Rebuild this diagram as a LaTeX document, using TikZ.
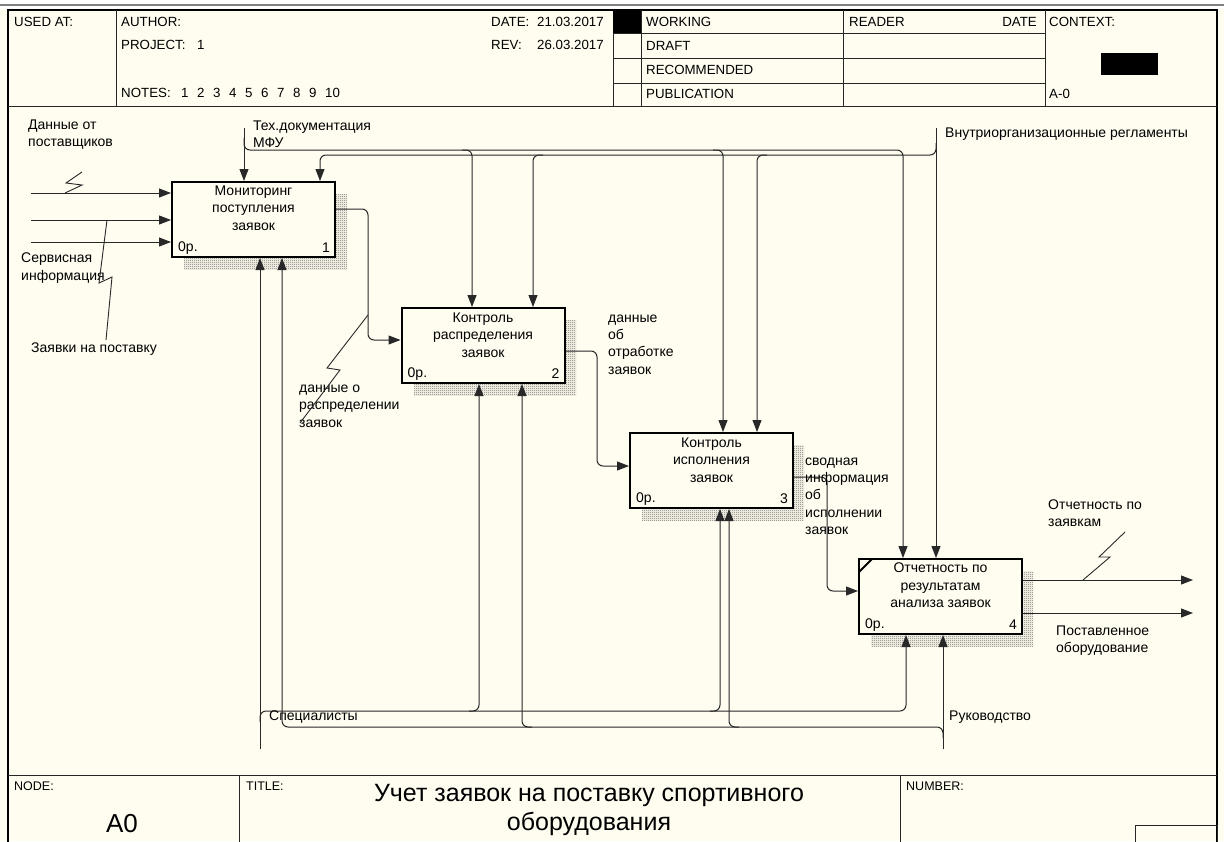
\documentclass[tikz,border=0pt]{standalone}
\usepackage{fontspec}
\setmainfont{Liberation Sans}
\usetikzlibrary{arrows.meta,patterns}
\definecolor{bg}{RGB}{255,252,240}
\definecolor{ln}{RGB}{40,40,40}
\definecolor{shd}{RGB}{110,108,104}
\pgfdeclarepatternformonly{finechecker}{\pgfpointorigin}{\pgfpoint{2pt}{2pt}}{\pgfpoint{2pt}{2pt}}{%
  \pgfpathrectangle{\pgfpointorigin}{\pgfpoint{1pt}{1pt}}%
  \pgfpathrectangle{\pgfpoint{1pt}{1pt}}{\pgfpoint{1pt}{1pt}}%
  \pgfusepath{fill}}
\begin{document}
\begin{tikzpicture}[x=1pt,y=-1pt,
  conn/.style={draw=ln,line width=1pt,rounded corners=6pt},
  arr/.style={conn,-{Triangle[length=12pt,width=9pt]}},
  bolt/.style={draw=ln,line width=0.9pt},
  lbl/.style={font=\fontsize{14}{17.3}\selectfont,inner sep=0pt,align=left,anchor=west},
  hdr/.style={font=\fontsize{13.3}{15}\selectfont,inner sep=0pt,anchor=west},
  small/.style={font=\fontsize{12.5}{14}\selectfont,inner sep=0pt,anchor=west},
  act/.style={draw=black,line width=2pt,fill=bg,minimum width=163pt,minimum height=75pt,inner sep=0pt},
  acttxt/.style={font=\fontsize{14}{17.5}\selectfont,inner sep=0pt,align=center},
  corner/.style={font=\fontsize{14}{15}\selectfont,inner sep=0pt},
  shadow/.style={pattern=finechecker,pattern color=shd},
  frame/.style={draw=black,line width=1.3pt},
  grid/.style={draw=black!85,line width=1pt}]
\useasboundingbox (0,0) rectangle (1224,841);
% background
\fill[bg] (0,0) rectangle (1224,841);
\fill[white] (0,0) rectangle (1224,9);
\draw[gray,line width=2pt] (0,5) -- (1224,5);
% frame
\draw[frame] (8,10) rectangle (1217,850);
\draw[grid] (8,106) -- (1217,106);
\foreach \xx in {116,613,641,843,1045} \draw[grid] (\xx,10) -- (\xx,106);
\foreach \yy in {33,58,83} \draw[grid] (613,\yy) -- (1045,\yy);
\fill[black] (613,10) rectangle (641,33);
\fill[black] (1101,53) rectangle (1158,75);
\draw[grid] (8,775) -- (1217,775);
\draw[grid] (239,775) -- (239,850);
\draw[grid] (900,775) -- (900,850);
\draw[grid] (1135,825) rectangle (1217,850);
% header texts
\node[hdr] (usedat) at (14,22) {USED AT:};
\node[hdr] (author) at (121,22) {AUTHOR:};
\node[hdr] (project) at (121,45) {PROJECT:};
\node[hdr] (projn) at (197,45) {1};
\node[hdr] (notes) at (121,93) {NOTES:};
\foreach \i in {1,...,10} {\pgfmathsetmacro{\nx}{181+16*(\i-1)}\node[hdr] (note\i) at (\nx,93) {\i};}
\node[hdr] (datel) at (491,22) {DATE:};
\node[hdr] (datev) at (537,22) {21.03.2017};
\node[hdr] (revl) at (491,45) {REV:};
\node[hdr] (revv) at (537,45) {26.03.2017};
\node[hdr] (working) at (646,22) {WORKING};
\node[hdr] (draft) at (646,46) {DRAFT};
\node[hdr] (recomm) at (646,70) {RECOMMENDED};
\node[hdr] (publ) at (646,94) {PUBLICATION};
\node[hdr] (reader) at (849,22) {READER};
\node[hdr,anchor=east] (rdate) at (1037,22) {DATE};
\node[hdr] (context) at (1049,22) {CONTEXT:};
\node[hdr] (azero) at (1049,94) {A-0};
% footer texts
\node[small] (nodel) at (14,786) {NODE:};
\node[small] (titlel) at (246,786) {TITLE:};
\node[small] (numl) at (906,786) {NUMBER:};
\node[font=\fontsize{26}{28}\selectfont,inner sep=0pt] (a0) at (122,824) {A0};
\node[font=\fontsize{25}{28.5}\selectfont,inner sep=0pt,align=center] (title) at (589,810) {Учет заявок на поставку спортивного\\оборудования};
% shadows
\path[shadow] (184,194) rectangle (347,269);
\path[shadow] (414,320) rectangle (576,395);
\path[shadow] (642,445) rectangle (804,520);
\path[shadow] (871,571) rectangle (1033,646);
% activity boxes
\node[act] (b1) at (253.5,219.5) {};
\node[act] (b2) at (483,345.5) {};
\node[act] (b3) at (711.5,470.5) {};
\node[act] (b4) at (940.5,596.5) {};
\draw[black,line width=2pt] (859,572) -- (872,559);
\node[acttxt] (t1) at (253.5,208) {Мониторинг\\поступления\\заявок};
\node[acttxt] (t2) at (483,335) {Контроль\\распределения\\заявок};
\node[acttxt] (t3) at (711.5,460) {Контроль\\исполнения\\заявок};
\node[acttxt] (t4) at (940.5,585.5) {Отчетность по\\результатам\\анализа заявок};
\foreach \b/\n in {b1/1,b2/2,b3/3,b4/4} {
  \node[corner,anchor=west] (\b op) at ([xshift=7pt,yshift=10pt]\b.south west) {0р.};
  \node[corner,anchor=east] (\b num) at ([xshift=-6pt,yshift=10pt]\b.south east) {\n};
}
% inputs of box 1
\coordinate (in1) at (31,193);
\coordinate (in2) at (31,220);
\coordinate (in3) at (31,242);
\draw[arr] (in1) -- (in1 -| b1.west);
\draw[arr] (in2) -- (in2 -| b1.west);
\draw[arr] (in3) -- (in3 -| b1.west);
% controls
\coordinate (mfu) at (244,128);
\coordinate (vn) at (936,128);
\coordinate (u1) at (244,150);
\coordinate (u2) at (472,150);
\coordinate (u3) at (723,150);
\coordinate (u4) at (903,150);
\coordinate (l1) at (320,155);
\coordinate (l2) at (533,155);
\coordinate (l3) at (757,155);
\coordinate (l4) at (936,155);
\draw[arr] (mfu) -- (mfu |- b1.north);
\draw[arr] (244,138) -- (u1) -- (u4) -- (u4 |- b4.north);
\draw[arr] ([xshift=-10pt]u2) -- (u2) -- (u2 |- b2.north);
\draw[arr] ([xshift=-10pt]u3) -- (u3) -- (u3 |- b3.north);
\draw[arr] (vn) -- (vn |- b4.north);
\draw[arr] (936,143) -- (l4) -- (l1) -- (l1 |- b1.north);
\draw[arr] ([xshift=10pt]l2) -- (l2) -- (l2 |- b2.north);
\draw[arr] ([xshift=10pt]l3) -- (l3) -- (l3 |- b3.north);
% mechanisms
\coordinate (sp) at (260,749);
\coordinate (rk) at (943,749);
\coordinate (s1) at (260,711);
\coordinate (s2) at (479,711);
\coordinate (s3) at (720,711);
\coordinate (s4) at (906,711);
\coordinate (r1) at (282,727);
\coordinate (r2) at (522,727);
\coordinate (r3) at (729,727);
\coordinate (r4) at (943,727);
\draw[arr] (sp) -- (sp |- b1.south);
\draw[arr] (260,722) -- (s1) -- (s4) -- (s4 |- b4.south);
\draw[arr] ([xshift=-10pt]s2) -- (s2) -- (s2 |- b2.south);
\draw[arr] ([xshift=-10pt]s3) -- (s3) -- (s3 |- b3.south);
\draw[arr] (rk) -- (rk |- b4.south);
\draw[arr] (943,738) -- (r4) -- (r1) -- (r1 |- b1.south);
\draw[arr] ([xshift=10pt]r2) -- (r2) -- (r2 |- b2.south);
\draw[arr] ([xshift=10pt]r3) -- (r3) -- (r3 |- b3.south);
% outputs
\coordinate (o1) at (368,209);
\coordinate (i2) at (368,340);
\coordinate (o2) at (597,351);
\coordinate (i3) at (597,466);
\coordinate (o3) at (827,477);
\coordinate (i4) at (827,591);
\coordinate (out1) at (1193,580);
\coordinate (out2) at (1193,613);
\draw[arr] (b1.east |- o1) -- (o1) -- (i2) -- (i2 -| b2.west);
\draw[arr] (b2.east |- o2) -- (o2) -- (i3) -- (i3 -| b3.west);
\draw[arr] (b3.east |- o3) -- (o3) -- (i4) -- (i4 -| b4.west);
\draw[arr] (b4.east |- out1) -- (out1);
\draw[arr] (b4.east |- out2) -- (out2);
% labels
\node[lbl] (ldp) at (28,134.5) {Данные от\\поставщиков};
\node[lbl] (lsi) at (21,268) {Сервисная\\информация};
\node[lbl] (lzp) at (31,349) {Заявки на поставку};
\node[lbl] (lmfu) at (253,134.5) {Тех.документация\\МФУ};
\node[lbl] (lvn) at (945,134) {Внутриорганизационные регламенты};
\node[lbl] (lrasp) at (299,406) {данные о\\распределении\\заявок};
\node[lbl] (lotr) at (608,344.5) {данные\\об\\отработке\\заявок};
\node[lbl] (lsvod) at (805,496) {сводная\\информация\\об\\исполнении\\заявок};
\node[lbl] (lotch) at (1048,513.5) {Отчетность по\\заявкам};
\node[lbl] (lpost) at (1056,640.5) {Поставленное\\оборудование};
\node[lbl] (lspec) at (269,717) {Специалисты};
\node[lbl] (lruk) at (949,717) {Руководство};
% squiggles
\draw[bolt] (82,172) -- (66,183) -- (82,185) -- (65,193);
\draw[bolt] (107,220) -- (99,283) -- (112,277) -- (106,340);
\draw[bolt] (368,315) -- (327,368) -- (340,370) -- (300,423);
\draw[bolt] (1125,532) -- (1099,557) -- (1110,557) -- (1083,580);
\end{tikzpicture}
\end{document}
